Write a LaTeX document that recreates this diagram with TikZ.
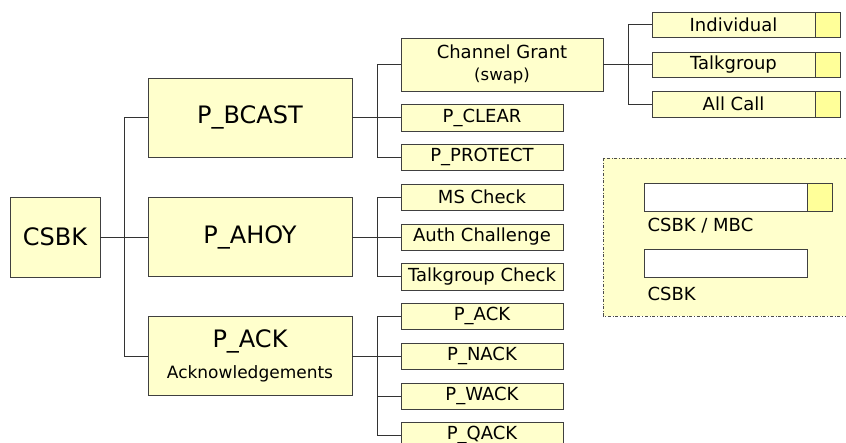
\documentclass[tikz,border=0pt]{standalone}
\usepackage{fontspec}
\setmainfont{DejaVu Sans}
\usetikzlibrary{positioning}
\definecolor{boxfill}{HTML}{FFFFCC}
\definecolor{cellfill}{HTML}{FFFF99}
\newcommand\rootfont{\fontsize{24}{28}\selectfont}
\newcommand\leaffont{\fontsize{18}{21}\selectfont}
\newcommand\notefont{\fontsize{16.5}{19}\selectfont}
\tikzset{
x=1pt, y=-1pt, % pixel-like coordinates, y grows downwards
link/.style={draw=black!80, line width=0.9pt}, % elbow connectors
basebox/.style={draw=black!75, fill=boxfill, inner sep=0pt, align=center},
rootbox/.style={basebox, minimum width=90pt, minimum height=80pt, font=\rootfont},
bigbox/.style={basebox, minimum width=204pt, minimum height=79pt, font=\rootfont},
grantbox/.style={basebox, minimum width=202pt, minimum height=53pt, font=\leaffont},
leafbox/.style={basebox, minimum width=162pt, minimum height=26.5pt, font=\leaffont},
kindbox/.style={basebox, minimum width=163pt, minimum height=25.5pt, font=\leaffont},
cell/.style={draw=black!75, fill=cellfill, minimum width=25pt, minimum height=25.5pt, inner sep=0pt},
}

\begin{document}
\begin{tikzpicture}
\useasboundingbox (0,0) rectangle (846,443);
% root and first level
\node[rootbox] (csbk) at (55,237) {CSBK};
\node[bigbox] (bcast) at (250,117.5) {P\_BCAST};
\node[bigbox] (ahoy) at (250,237) {P\_AHOY};
\node[bigbox] (ack) at (250,356) {P\_ACK\\[3pt]{\fontsize{17}{20}\selectfont Acknowledgements}};
% second level
\node[grantbox] (grant) at (502,64.5) {Channel Grant\\[1pt]{\notefont (swap)}};
\node[leafbox] (clear) at (482,117.5) {P\_CLEAR};
\node[leafbox] (protect) at (482,157) {P\_PROTECT};
\node[leafbox] (mscheck) at (482,197) {MS Check};
\node[leafbox] (auth) at (482,237) {Auth Challenge};
\node[leafbox] (tgcheck) at (482,276.5) {Talkgroup Check};
\node[leafbox] (pack) at (482,316) {P\_ACK};
\node[leafbox] (pnack) at (482,356) {P\_NACK};
\node[leafbox] (pwack) at (482,396) {P\_WACK};
\node[leafbox] (pqack) at (482,435) {P\_QACK};
% third level
\node[kindbox] (indiv) at (733.5,24.5) {Individual};
\node[cell, right=0pt of indiv] (indivc) {};
\node[kindbox] (tgroup) at (733.5,64.5) {Talkgroup};
\node[cell, right=0pt of tgroup] (tgroupc) {};
\node[kindbox] (allcall) at (733.5,104) {All Call};
\node[cell, right=0pt of allcall] (allcallc) {};
% connectors
\coordinate (j0) at (124,237);
\draw[link] (csbk) -- (j0);
\draw[link] (bcast) -| (j0);
\draw[link] (ack) -| (j0);
\draw[link] (j0) -- (ahoy);
\coordinate (j1) at (377,117.5);
\draw[link] (bcast) -- (j1);
\draw[link] (grant) -| (j1);
\draw[link] (protect) -| (j1);
\draw[link] (j1) -- (clear);
\coordinate (j2) at (377,237);
\draw[link] (ahoy) -- (j2);
\draw[link] (mscheck) -| (j2);
\draw[link] (tgcheck) -| (j2);
\draw[link] (j2) -- (auth);
\coordinate (j3) at (377,356);
\draw[link] (ack) -- (j3);
\draw[link] (pack) -| (j3);
\draw[link] (pqack) -| (j3);
\draw[link] (pwack) -| (j3);
\draw[link] (j3) -- (pnack);
\coordinate (j4) at (628,64.5);
\draw[link] (grant) -- (j4);
\draw[link] (indiv) -| (j4);
\draw[link] (allcall) -| (j4);
\draw[link] (j4) -- (tgroup);
% legend
\draw[draw=black!70, dash dot, fill=boxfill] (603,158) rectangle (848,316);
\node[basebox, fill=white, minimum width=163pt, minimum height=28pt] (mbcbar) at (725.5,197) {};
\node[cell, minimum height=28pt, right=0pt of mbcbar] (mbccell) {};
\node[anchor=west, font=\leaffont] (mbclabel) at (644,226) {CSBK / MBC};
\node[basebox, fill=white, minimum width=163pt, minimum height=28pt] (csbkbar) at (725.5,263) {};
\node[anchor=west, font=\leaffont] (csbklabel) at (644,294) {CSBK};
\end{tikzpicture}
\end{document}
